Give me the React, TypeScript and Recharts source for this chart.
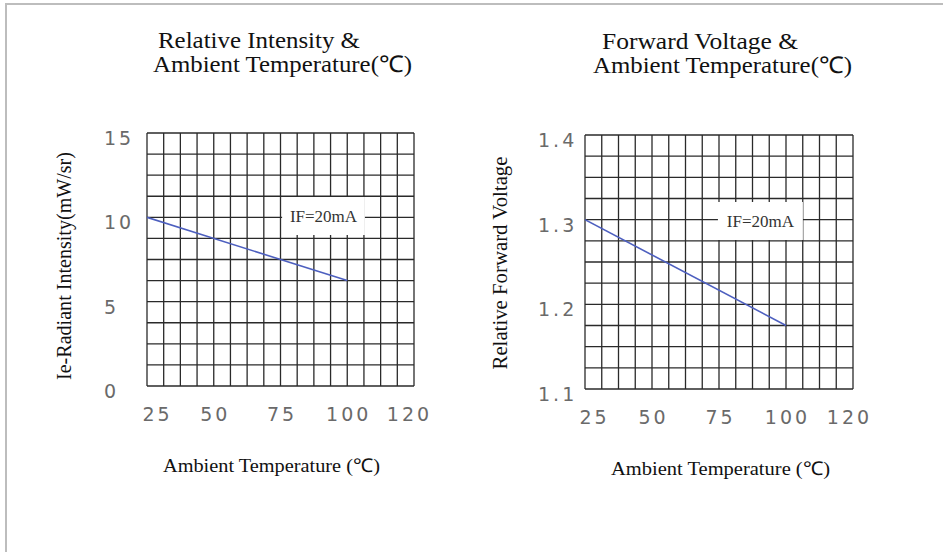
import React from 'react';
import { LineChart, Line, XAxis, YAxis, CartesianGrid, ReferenceArea } from 'recharts';

// ---- data ----
const tempLabelTicks = [25, 50, 75, 100, 125];
const tempLabels = ['25', '50', '75', '100', '120'];
const tempGrid = [25, 31.25, 37.5, 43.75, 50, 56.25, 62.5, 68.75, 75, 81.25, 87.5, 93.75, 100, 106.25, 112.5, 118.75, 125];

const temperature = [25, 100];
const intensity = [10, 6.25];
const voltage = [1.3, 1.175];

const intensityGrid = [0, 1.25, 2.5, 3.75, 5, 6.25, 7.5, 8.75, 10, 11.25, 12.5, 13.75, 15];
const intensityLabelTicks = [0, 5, 10, 15];
const intensityLabels = ['0', '5', '10', '15'];

const voltageGrid = [1.1, 1.125, 1.15, 1.175, 1.2, 1.225, 1.25, 1.275, 1.3, 1.325, 1.35, 1.375, 1.4];
const voltageLabelTicks = [1.1, 1.2, 1.3, 1.4];
const voltageLabels = ['1.1', '1.2', '1.3', '1.4'];

const noteText = 'IF=20mA';

const intensityData = temperature.map((t, i) => ({ t, v: intensity[i] }));
const voltageData = temperature.map((t, i) => ({ t, v: voltage[i] }));

// ---- styles ----
const TICK_FONT = '"DejaVu Sans", sans-serif';
const SERIF = '"Liberation Serif", "Times New Roman", serif';
const GRID = '#2a2a2a';
const LINE = '#4d5fbf';

const findIdx = (arr: number[], v: number) => arr.findIndex((a) => Math.abs(a - v) < 1e-6);

const tickTextProps = {
  fontFamily: TICK_FONT,
  fontSize: 19,
  fontWeight: 400,
  letterSpacing: 3,
  fill: '#6a6a6a',
};

const makeXTick = (dFirst: number, dLast: number) => (props: any) => {
  const { x, y, payload } = props;
  const idx = findIdx(tempLabelTicks, payload.value);
  if (idx < 0) return <g />;
  const dx = idx === 0 ? dFirst : idx === tempLabelTicks.length - 1 ? dLast : 0;
  return (
    <text x={x + dx + 1.5} y={y + 28} textAnchor="middle" dominantBaseline="central" {...tickTextProps}>
      {tempLabels[idx]}
    </text>
  );
};

const makeYTick = (ticks: number[], labels: string[], off: number) => (props: any) => {
  const { x, y, payload } = props;
  const idx = findIdx(ticks, payload.value);
  if (idx < 0) return <g />;
  return (
    <text x={x - off} y={y + 5} textAnchor="start" dominantBaseline="central" {...tickTextProps}>
      {labels[idx]}
    </text>
  );
};

const noteLabel = {
  value: noteText,
  position: 'center' as const,
  fill: '#333',
  fontSize: 17,
  fontFamily: SERIF,
};

export default function App() {
  return (
    <div
      style={{
        position: 'absolute',
        left: 0,
        top: 0,
        width: 943,
        height: 552,
        background: '#fff',
        overflow: 'hidden',
      }}
    >
      <div
        style={{
          position: 'absolute',
          left: 5,
          top: 3,
          width: 960,
          height: 600,
          borderLeft: '2px solid #bdbdbd',
          borderTop: '2px solid #bdbdbd',
        }}
      />
      <div style={{ position: 'absolute', left: 0, top: 0 }}>
        <LineChart width={460} height={552} data={intensityData} margin={{ top: 133, right: 46, bottom: 126, left: 0 }}>
          <CartesianGrid stroke={GRID} strokeWidth={1.3} />
          <XAxis
            dataKey="t"
            type="number"
            domain={[25, 125]}
            ticks={tempGrid}
            interval={0}
            allowDataOverflow
            axisLine={false}
            tickLine={false}
            tickSize={0}
            tickMargin={0}
            height={40}
            tick={makeXTick(9, -6)}
          />
          <YAxis
            type="number"
            domain={[0, 15]}
            ticks={intensityGrid}
            interval={0}
            allowDataOverflow
            axisLine={false}
            tickLine={false}
            tickSize={0}
            tickMargin={0}
            width={147}
            tick={makeYTick(intensityLabelTicks, intensityLabels, 43)}
          />
          <ReferenceArea x1={75.6} x2={106.6} y1={8.95} y2={11.2} fill="#fff" fillOpacity={1} stroke="none" label={noteLabel} />
          <Line type="linear" dataKey="v" stroke={LINE} strokeWidth={1.6} dot={false} isAnimationActive={false} />
        </LineChart>
      </div>
      <div style={{ position: 'absolute', left: 470, top: 0 }}>
        <LineChart width={473} height={552} data={voltageData} margin={{ top: 135, right: 90, bottom: 123, left: 0 }}>
          <CartesianGrid stroke={GRID} strokeWidth={1.3} />
          <XAxis
            dataKey="t"
            type="number"
            domain={[25, 125]}
            ticks={tempGrid}
            interval={0}
            allowDataOverflow
            axisLine={false}
            tickLine={false}
            tickSize={0}
            tickMargin={0}
            height={40}
            tick={makeXTick(8, -5)}
          />
          <YAxis
            type="number"
            domain={[1.1, 1.4]}
            ticks={voltageGrid}
            interval={0}
            allowDataOverflow
            axisLine={false}
            tickLine={false}
            tickSize={0}
            tickMargin={0}
            width={115}
            tick={makeYTick(voltageLabelTicks, voltageLabels, 47)}
          />
          <ReferenceArea x1={74.6} x2={106.3} y1={1.276} y2={1.321} fill="#fff" fillOpacity={1} stroke="none" label={noteLabel} />
          <Line type="linear" dataKey="v" stroke={LINE} strokeWidth={1.6} dot={false} isAnimationActive={false} />
        </LineChart>
      </div>
      <svg
        width={943}
        height={552}
        style={{ position: 'absolute', left: 0, top: 0, pointerEvents: 'none' }}
      >
        <g fontFamily={SERIF} fill="#111">
          <text x={158} y={48} fontSize={23} textLength={202} lengthAdjust="spacingAndGlyphs">Relative Intensity &amp;</text>
          <text x={153} y={72} fontSize={23} textLength={259} lengthAdjust="spacingAndGlyphs">Ambient Temperature(℃)</text>
          <text x={602} y={49} fontSize={23} textLength={196} lengthAdjust="spacingAndGlyphs">Forward Voltage &amp;</text>
          <text x={593} y={73} fontSize={23} textLength={259} lengthAdjust="spacingAndGlyphs">Ambient Temperature(℃)</text>

          <text x={163} y={472} fontSize={19} textLength={217} lengthAdjust="spacingAndGlyphs">Ambient Temperature (℃)</text>
          <text x={611} y={475} fontSize={19} textLength={219} lengthAdjust="spacingAndGlyphs">Ambient Temperature (℃)</text>

          <text
            x={71}
            y={266}
            fontSize={20}
            textAnchor="middle"
            textLength={228}
            lengthAdjust="spacingAndGlyphs"
            transform="rotate(-90, 71, 266)"
          >
            Ie-Radiant Intensity(mW/sr)
          </text>
          <text
            x={507}
            y={263}
            fontSize={20}
            textAnchor="middle"
            textLength={213}
            lengthAdjust="spacingAndGlyphs"
            transform="rotate(-90, 507, 263)"
          >
            Relative Forward Voltage
          </text>
        </g>
      </svg>
    </div>
  );
}
